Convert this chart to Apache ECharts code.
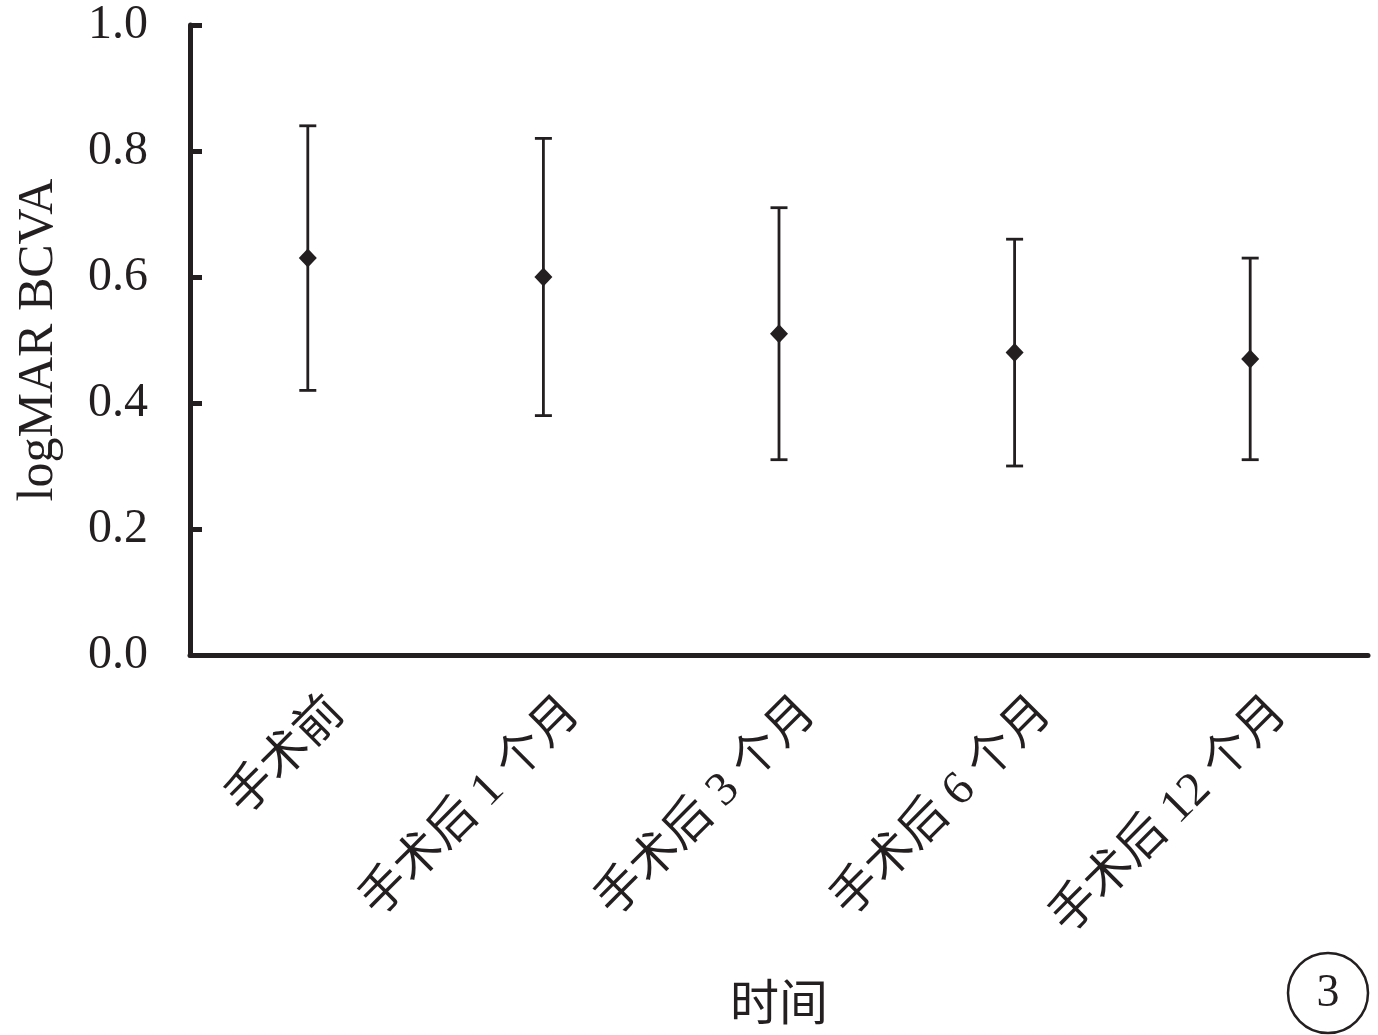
<!DOCTYPE html>
<html>
<head>
<meta charset="utf-8">
<script src="https://cdn.jsdelivr.net/npm/echarts@6/dist/echarts.min.js"></script>
<style>html,body{margin:0;padding:0;background:#fff}#c{width:1378px;height:1035px}</style>
</head>
<body>
<div id="c"></div>
<script>
var categories = ['手术前', '手术后 1 个月', '手术后 3 个月', '手术后 6 个月', '手术后 12 个月'];
var means = [0.63, 0.60, 0.51, 0.48, 0.47];
var lows = [0.42, 0.38, 0.31, 0.30, 0.31];
var highs = [0.84, 0.82, 0.71, 0.66, 0.63];
var yTicks = [0, 0.2, 0.4, 0.6, 0.8, 1.0];

var serif = '"Liberation Serif", "Times New Roman", "Noto Sans CJK SC", serif';
var errData = categories.map(function (c, i) { return [i, lows[i], highs[i]]; });

var chart = echarts.init(document.getElementById('c'));
chart.setOption({
  animation: false,
  backgroundColor: '#fff',
  grid: { left: 190, right: 10, top: 25, bottom: 380, containLabel: false, outerBoundsMode: 'none' },
  xAxis: {
    type: 'category',
    data: categories,
    boundaryGap: true,
    name: '时间',
    nameLocation: 'middle',
    nameGap: 328,
    nameTextStyle: { fontFamily: serif, fontSize: 49, color: '#231f20' },
    axisLine: { lineStyle: { color: '#231f20', width: 5 } },
    axisTick: { inside: true, length: 12, lineStyle: { color: '#231f20', width: 5 } },
    axisLabel: {
      rotate: 45, margin: 21, fontFamily: serif, fontSize: 48, color: '#231f20', interval: 0,
      verticalAlign: 'top', padding: [18, 0, 0, 0]
    },
    splitLine: { show: false }
  },
  yAxis: {
    type: 'value',
    min: 0,
    max: 1,
    interval: 0.2,
    name: 'logMAR BCVA',
    nameLocation: 'middle',
    nameGap: 126,
    nameRotate: 90,
    nameTextStyle: { fontFamily: serif, fontSize: 50, color: '#231f20' },
    axisLine: { show: true, lineStyle: { color: '#231f20', width: 5 } },
    axisTick: { show: true, inside: true, length: 12, lineStyle: { color: '#231f20', width: 5 } },
    axisLabel: {
      margin: 42, fontFamily: serif, fontSize: 48, color: '#231f20',
      formatter: function (v) {
        for (var k = 0; k < yTicks.length; k++) { if (Math.abs(yTicks[k] - v) < 1e-9) return yTicks[k].toFixed(1); }
        return '';
      }
    },
    splitLine: { show: false }
  },
  series: [
    {
      type: 'custom',
      data: errData,
      z: 2,
      renderItem: function (params, api) {
        var x = api.value(0);
        var lo = api.coord([x, api.value(1)]);
        var hi = api.coord([x, api.value(2)]);
        var w = 8.5;
        var st = { stroke: '#231f20', lineWidth: 2.8 };
        return {
          type: 'group',
          children: [
            { type: 'line', shape: { x1: lo[0], y1: lo[1], x2: hi[0], y2: hi[1] }, style: st },
            { type: 'line', shape: { x1: lo[0] - w, y1: lo[1], x2: lo[0] + w, y2: lo[1] }, style: st },
            { type: 'line', shape: { x1: hi[0] - w, y1: hi[1], x2: hi[0] + w, y2: hi[1] }, style: st }
          ]
        };
      }
    },
    {
      type: 'scatter',
      data: means,
      symbol: 'diamond',
      symbolSize: [18, 19],
      z: 3,
      itemStyle: { color: '#231f20', opacity: 1 }
    }
  ],
  graphic: [
    { type: 'circle', shape: { cx: 1328, cy: 993, r: 40 }, style: { fill: 'none', stroke: '#231f20', lineWidth: 2.5 } },
    { type: 'text', x: 1328, y: 994, style: { text: '3', fontFamily: serif, fontSize: 46, fill: '#231f20', align: 'center', verticalAlign: 'middle' } }
  ]
});
</script>
</body>
</html>
